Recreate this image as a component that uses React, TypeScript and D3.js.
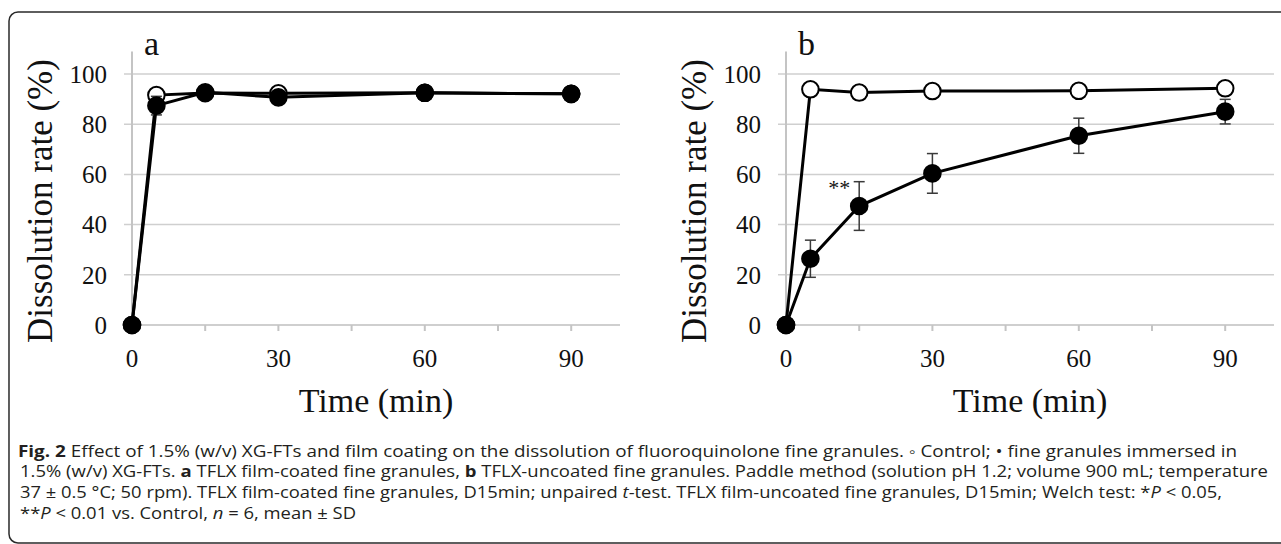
import React from "react";
import * as d3 from "d3";

// sampling times (min)
const times = [0, 5, 15, 30, 60, 90];

// panel a: TFLX film-coated fine granules
const aControl = [0, 91.6, 92.4, 92.3, 92.5, 92.1];
const aControlSD = [0, 0.8, 0.6, 0.7, 0.5, 0.5];
const aImmersed = [0, 87.4, 92.7, 90.7, 92.5, 92.1];
const aImmersedSD = [0, 3.7, 1.0, 1.5, 0.8, 0.8];

// panel b: TFLX-uncoated fine granules
const bControl = [0, 93.9, 92.6, 93.2, 93.3, 94.3];
const bControlSD = [0, 0.6, 0.5, 0.5, 0.5, 0.6];
const bImmersed = [0, 26.4, 47.4, 60.4, 75.4, 85.0];
const bImmersedSD = [0, 7.4, 9.7, 7.9, 7.0, 4.9];

const xTickLabels = [0, 30, 60, 90];
const xMinorTicks = [0, 15, 30, 45, 60, 75, 90];
const yTicks = [0, 20, 40, 60, 80, 100];

const serif = "'Liberation Serif', 'Times New Roman', serif";
const sans = "'Open Sans', 'Noto Sans', sans-serif";

type Series = { values: number[]; sd: number[]; filled: boolean };

type PanelProps = {
  left: number;
  letter: string;
  series: Series[];
  stars?: { t: number; v: number; text: string };
};

function Panel({ left, letter, series, stars }: PanelProps) {
  const x = d3.scaleLinear().domain([0, 100]).range([left, left + 488]);
  const y = d3.scaleLinear().domain([0, 100]).range([325, 74]);
  const line = d3
    .line<number>()
    .x((_, i) => x(times[i]))
    .y((v) => y(v));

  return (
    <g>
      {/* gridlines */}
      {yTicks.map((t) => (
        <line
          key={"g" + t}
          x1={x(0) - 8}
          x2={x(100)}
          y1={y(t)}
          y2={y(t)}
          stroke="#cfcfcf"
          strokeWidth={t === 0 ? 2 : 1.5}
        />
      ))}
      {/* y axis */}
      <line x1={x(0)} x2={x(0)} y1={y(109)} y2={y(0)} stroke="#c4c4c4" strokeWidth={2} />
      {xMinorTicks.map((t) => (
        <line key={"t" + t} x1={x(t)} x2={x(t)} y1={y(0)} y2={y(0) + 6} stroke="#c4c4c4" strokeWidth={2} />
      ))}
      {yTicks.map((t) => (
        <text
          key={"yl" + t}
          x={x(0) - 25}
          y={y(t)}
          dy="0.35em"
          textAnchor="end"
          fontFamily={serif}
          fontSize={25}
          fill="#111"
        >
          {t}
        </text>
      ))}
      {xTickLabels.map((t) => (
        <text
          key={"xl" + t}
          x={x(t)}
          y={367}
          textAnchor="middle"
          fontFamily={serif}
          fontSize={25}
          fill="#111"
        >
          {t}
        </text>
      ))}
      <text x={x(50)} y={412} textAnchor="middle" fontFamily={serif} fontSize={34} fill="#111">
        Time (min)
      </text>
      <text
        transform={`translate(${x(0) - 80},201) rotate(-90)`}
        textAnchor="middle"
        fontFamily={serif}
        fontSize={35}
        fill="#111"
      >
        Dissolution rate (%)
      </text>
      <text x={x(0) + 12} y={55} fontFamily={serif} fontSize={34} fill="#111">
        {letter}
      </text>

      {series.map((s, si) => (
        <g key={"s" + si}>
          {s.values.map((v, i) =>
            i === 0 ? null : (
              <g key={"e" + i} stroke="#3a3a3a" strokeWidth={1.5}>
                <line x1={x(times[i])} x2={x(times[i])} y1={y(v + s.sd[i])} y2={y(v - s.sd[i])} />
                <line x1={x(times[i]) - 5.5} x2={x(times[i]) + 5.5} y1={y(v + s.sd[i])} y2={y(v + s.sd[i])} />
                <line x1={x(times[i]) - 5.5} x2={x(times[i]) + 5.5} y1={y(v - s.sd[i])} y2={y(v - s.sd[i])} />
              </g>
            )
          )}
          <path d={line(s.values) || ""} fill="none" stroke="#000" strokeWidth={3} />
          {s.values.map((v, i) => (
            <circle
              key={"c" + i}
              cx={x(times[i])}
              cy={y(v)}
              r={8.3}
              fill={s.filled ? "#000" : "#fff"}
              stroke="#000"
              strokeWidth={2}
            />
          ))}
        </g>
      ))}

      {stars && (
        <text
          x={x(stars.t) - 9}
          y={y(stars.v) + 1}
          textAnchor="end"
          fontFamily={serif}
          fontSize={22}
          fill="#111"
        >
          {stars.text}
        </text>
      )}
    </g>
  );
}

export default function App() {
  return (
    <svg
      width={1281}
      height={544}
      style={{ position: "absolute", left: 0, top: 0, background: "#fff" }}
    >
      <rect x={9} y={12} width={1300} height={531} rx={9} fill="#fff" stroke="#2a2a2a" strokeWidth={1.5} />
      <Panel
        left={132}
        letter="a"
        series={[
          { values: aControl, sd: aControlSD, filled: false },
          { values: aImmersed, sd: aImmersedSD, filled: true },
        ]}
      />
      <Panel
        left={786}
        letter="b"
        series={[
          { values: bControl, sd: bControlSD, filled: false },
          { values: bImmersed, sd: bImmersedSD, filled: true },
        ]}
        stars={{ t: 15, v: 52, text: "**" }}
      />

      <g fontFamily={sans} fontSize={15.5} fill="#231f20">
        <text x={18} y={457} textLength={1219} lengthAdjust="spacingAndGlyphs">
          <tspan fontWeight="bold">Fig. 2</tspan> Effect of 1.5% (w/v) XG-FTs and film coating on the dissolution of
          fluoroquinolone fine granules. ◦ Control; • fine granules immersed in
        </text>
        <text x={20} y={477} textLength={1248} lengthAdjust="spacingAndGlyphs">
          1.5% (w/v) XG-FTs. <tspan fontWeight="bold">a</tspan> TFLX film-coated fine granules,{" "}
          <tspan fontWeight="bold">b</tspan> TFLX-uncoated fine granules. Paddle method (solution pH 1.2; volume 900
          mL; temperature
        </text>
        <text x={20} y={498} textLength={1202} lengthAdjust="spacingAndGlyphs">
          37 ± 0.5 °C; 50 rpm). TFLX film-coated fine granules, D15min; unpaired <tspan fontStyle="italic">t</tspan>
          -test. TFLX film-uncoated fine granules, D15min; Welch test: *<tspan fontStyle="italic">P</tspan> &lt; 0.05,
        </text>
        <text x={20} y={519} textLength={336} lengthAdjust="spacingAndGlyphs">
          **<tspan fontStyle="italic">P</tspan> &lt; 0.01 vs. Control, <tspan fontStyle="italic">n</tspan> = 6, mean ±
          SD
        </text>
      </g>
    </svg>
  );
}
